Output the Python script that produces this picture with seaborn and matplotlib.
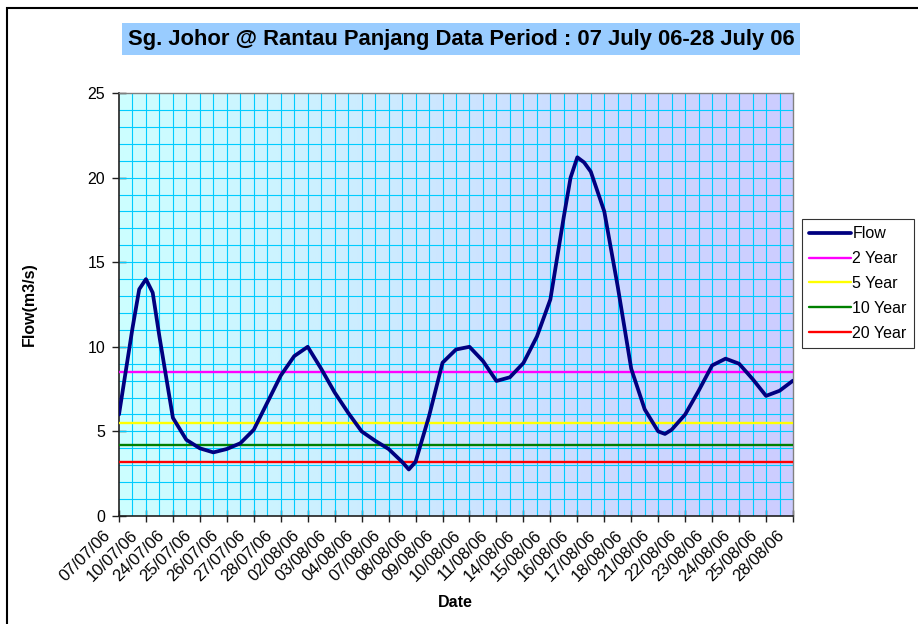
import numpy as np
import pandas as pd
import seaborn as sns
import matplotlib.pyplot as plt
from matplotlib.colors import LinearSegmentedColormap
from matplotlib.lines import Line2D
from matplotlib.patches import Rectangle
from matplotlib.transforms import ScaledTranslation

# category labels on the x axis (one per tick)
dates = ["07/07/06", "10/07/06", "24/07/06", "25/07/06", "26/07/06", "27/07/06",
         "28/07/06", "02/08/06", "03/08/06", "04/08/06", "07/08/06", "08/08/06",
         "09/08/06", "10/08/06", "11/08/06", "14/08/06", "15/08/06", "16/08/06",
         "17/08/06", "18/08/06", "21/08/06", "22/08/06", "23/08/06", "24/08/06",
         "25/08/06", "28/08/06"]

# flow readings, position in category units
flow_pos = [0, 0.5, 0.75, 1, 1.25, 1.5, 2, 2.5, 3, 3.5, 4, 4.5, 5, 5.5, 6, 6.5,
            7, 7.5, 8, 8.5, 9, 9.5, 10, 10.5, 10.75, 11, 11.5, 12, 12.5, 13,
            13.5, 14, 14.5, 15, 15.5, 16, 16.5, 16.75, 17, 17.25, 17.5, 18,
            18.5, 19, 19.5, 20, 20.25, 20.5, 21, 21.5, 22, 22.5, 23, 23.5, 24,
            24.5, 25]
flow = [6.0, 11.1, 13.4, 14.0, 13.2, 10.6, 5.8, 4.5, 4.0, 3.76, 3.96, 4.3, 5.1,
        6.7, 8.3, 9.45, 10.0, 8.7, 7.3, 6.1, 5.0, 4.45, 3.96, 3.2, 2.75, 3.2,
        5.9, 9.06, 9.84, 10.0, 9.16, 7.98, 8.2, 9.04, 10.6, 12.8, 17.7, 20.0,
        21.2, 20.9, 20.35, 18.0, 13.55, 8.7, 6.3, 5.0, 4.85, 5.1, 6.0, 7.4,
        8.9, 9.3, 9.0, 8.1, 7.1, 7.4, 8.0]

# return period flows
periods = ["2 Year", "5 Year", "10 Year", "20 Year"]
period_flow = [8.5, 5.5, 4.2, 3.2]
period_colors = ["#FF00FF", "#FFFF00", "#008000", "#FF0000"]

df = pd.DataFrame({"pos": flow_pos, "flow": flow})

sns.set_style("white")
plt.rcParams['font.family'] = ['Liberation Sans', 'DejaVu Sans']
plt.rcParams['text.color'] = 'black'
plt.rcParams['xtick.color'] = 'black'
plt.rcParams['ytick.color'] = 'black'
plt.rcParams['axes.labelcolor'] = 'black'

fig = plt.figure(figsize=(9.18, 6.24), dpi=100)
ax = fig.add_axes([119 / 918, 1 - 516 / 624, (793 - 119) / 918, (516 - 93) / 624])

# background gradient of the plot area
grad = LinearSegmentedColormap.from_list("bg", ["#CCFFFF", "#CCCCFF"])
ax.imshow(np.linspace(0, 1, 256).reshape(1, -1), cmap=grad, aspect="auto",
          extent=[0, 1, 0, 1], transform=ax.transAxes, zorder=0)

n = len(dates) - 1
ax.set_xlim(0, n)
ax.set_ylim(0, 25)

# grid
for v in np.arange(0.5, n, 0.5):
    ax.axvline(v, color="#00CCFF", lw=0.8, zorder=1)
for h in range(1, 25):
    ax.axhline(h, color="#00CCFF", lw=0.8, zorder=1)

for name, val, col in zip(periods, period_flow, period_colors):
    ax.axhline(val, color=col, lw=1.7, zorder=3)

sns.lineplot(data=df, x="pos", y="flow", color="#000080", lw=2.7, ax=ax,
             zorder=4, estimator=None, sort=False)

# x tick labels drawn by hand so they sit below-left of each tick
ax.set_xticks(range(len(dates)))
ax.set_xticklabels([])
lab_trans = ax.get_xaxis_transform() + ScaledTranslation(-11 / 100, -17 / 100,
                                                         fig.dpi_scale_trans)
for i, d in enumerate(dates):
    ax.text(i, 0, d, transform=lab_trans, rotation=45, ha="right", va="center",
            rotation_mode="anchor", fontsize=12, clip_on=False)

ax.set_yticks(range(0, 26, 5))
ax.tick_params(axis="y", labelsize=11.5, direction="inout", length=10, width=1,
               left=True, color="#202020", pad=5)
ax.tick_params(axis="x", direction="inout", length=9, width=1, bottom=True,
               color="#202020")

for s in ["top", "right"]:
    ax.spines[s].set_color("#808080")
    ax.spines[s].set_linewidth(1)
for s in ["left", "bottom"]:
    ax.spines[s].set_color("#202020")
    ax.spines[s].set_linewidth(1.2)

ax.set_xlabel("Date", fontsize=11.5, fontweight="bold")
ax.set_ylabel("Flow(m3/s)", fontsize=11.5, fontweight="bold")
ax.xaxis.set_label_coords((455 - 119) / 674, -(595 - 516) / 423)
ax.yaxis.set_label_coords(-(119 - 37) / 674, 0.5)

# title in a filled box
fig.text(461 / 918, 1 - 39 / 624,
         "Sg. Johor @ Rantau Panjang Data Period : 07 July 06-28 July 06",
         ha="center", va="center", fontsize=15.8, fontweight="bold",
         bbox=dict(boxstyle="square,pad=0.25", fc="#99CCFF", ec="none"))

handles = [Line2D([], [], color="#000080", lw=2.7)]
handles += [Line2D([], [], color=c, lw=1.7) for c in period_colors]
leg = fig.legend(handles, ["Flow"] + periods, loc="upper left",
                 bbox_to_anchor=(802 / 918, 1 - 219 / 624), fontsize=11.5,
                 frameon=True, fancybox=False, handlelength=2.6,
                 handletextpad=0.1, labelspacing=0.62, borderpad=0.45,
                 borderaxespad=0)
leg.get_frame().set_edgecolor("black")
leg.get_frame().set_linewidth(0.8)

# outer chart border
fig.patches.append(Rectangle((7 / 918, -0.05), 1.2, 1 - 8 / 624 + 0.05,
                             transform=fig.transFigure, fill=False,
                             ec="black", lw=1.5))

fig.savefig("out.png", dpi=100)
